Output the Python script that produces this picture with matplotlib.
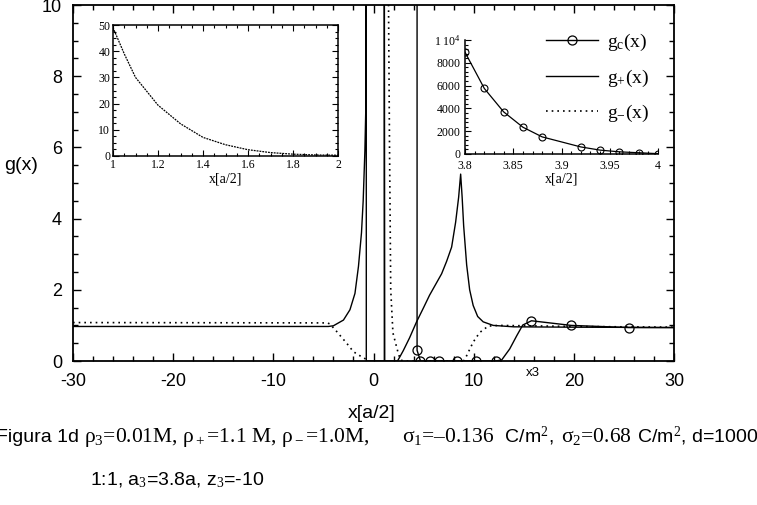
import numpy as np
import matplotlib
matplotlib.use("Agg")
import matplotlib.pyplot as plt
from matplotlib.ticker import MultipleLocator, FixedLocator, FixedFormatter
from matplotlib.offsetbox import TextArea, HPacker, AnchoredOffsetbox

plt.rcParams['axes.unicode_minus'] = False
plt.rcParams['mathtext.fontset'] = 'custom'
plt.rcParams['mathtext.rm'] = 'Liberation Serif'
plt.rcParams['mathtext.it'] = 'Liberation Serif:italic'
plt.rcParams['mathtext.bf'] = 'Liberation Serif:bold'

# ---------------- data ----------------
# g_+(x), solid
gp_x = [-30, -4.5, -4.0, -3.0, -2.35, -1.85, -1.5, -1.2, -1.03, -0.86, -0.76, -0.72, -0.72,
        1.08, 1.08, 1.12, 2.4, 2.97, 3.6, 4.3, 5.0, 5.6, 6.2, 6.8, 7.3, 7.8, 8.2, 8.5, 8.7,
        8.85, 9.0, 9.3, 9.6, 9.95, 10.4, 10.95, 11.95, 14, 20, 30]
gp_y = [0.97, 0.97, 0.99, 1.15, 1.44, 1.9, 2.66, 3.6, 4.5, 5.9, 7.2, 12, 0,
        0, 12, 0, 0, 0.29, 0.65, 1.1, 1.5, 1.85, 2.15, 2.45, 2.8, 3.2, 3.9, 4.6, 5.25,
        4.6, 3.8, 2.7, 2.0, 1.56, 1.25, 1.1, 1.0, 0.96, 0.95, 0.94]

# g_-(x), dotted
gm_x = [-30, -4.6, -4.35, -3.68, -2.68, -2.0, -1.2, -0.87, -0.72, np.nan,
        1.45, 1.5, 1.6, 1.72, 1.94, 2.3, 2.47, 2.7, 3.0, 9.0, 9.3, 9.95, 10.6, 11.45, 12.5, 20, 30]
gm_y = [1.08, 1.07, 1.04, 0.83, 0.5, 0.26, 0.12, 0.07, 0.05, np.nan,
        12, 10, 6, 2.0, 0.79, 0.4, 0.22, 0.03, 0, 0, 0.15, 0.53, 0.8, 0.98, 1.0, 0.97, 0.95]

# g_c(x), solid with circles
gc_x = [4.35, 4.35, 4.69, 5.62, 6.55, 8.35, 10.28, 12.2, 12.8, 13.6, 14.3, 14.9, 15.77, 19.73, 25.5, 30]
gc_y = [12, 0.3, 0.0, 0.0, 0.0, 0.0, 0.0, 0.0, 0.03, 0.34, 0.71, 1.01, 1.13, 1.0, 0.94, 0.94]
gc_marks = [1, 2, 3, 4, 5, 6, 7, 12, 13, 14]

# inset 1: g_-(x) near contact
in1_x = [1.0, 1.01, 1.05, 1.1, 1.2, 1.3, 1.4, 1.5, 1.6, 1.7, 1.8, 1.9, 2.0]
in1_y = [49, 47, 39, 30, 19.4, 12.3, 7.1, 4.3, 2.4, 1.3, 0.7, 0.4, 0.3]

# inset 2: g_c(x) near contact
in2_x = [3.80, 3.82, 3.84, 3.86, 3.88, 3.92, 3.94, 3.96, 3.98, 4.00]
in2_y = [8930, 5750, 3700, 2350, 1500, 620, 340, 190, 110, 30]

main_xticks = [-30, -20, -10, 0, 10, 20, 30]
main_yticks = [0, 2, 4, 6, 8, 10]
in1_xticks = [1, 1.2, 1.4, 1.6, 1.8, 2]
in1_xlabels = ['1', '1.2', '1.4', '1.6', '1.8', '2']
in1_yticks = [0, 10, 20, 30, 40, 50]
in2_xticks = [3.8, 3.85, 3.9, 3.95, 4.0]
in2_xlabels = ['3.8', '3.85', '3.9', '3.95', '4']
in2_yticks = [0, 2000, 4000, 6000, 8000, 10000]
in2_ylabels = ['0', '2000', '4000', '6000', '8000', r'1 10$^{4}$']

# ---------------- figure ----------------
W, H = 757, 505
fig = plt.figure(figsize=(W / 100, H / 100), dpi=100)

def fx(px):
    return px / W

def fy(py):
    return 1 - py / H

sans = 'Liberation Sans'
serif = 'Liberation Serif'

ax = fig.add_axes([fx(73), fy(361), fx(674) - fx(73), fy(5) - fy(361)])
ax.plot(gp_x, gp_y, color='black', lw=1.0, label=r'g$_{+}$(x)')
ax.plot(gm_x, gm_y, color='black', lw=1.2, linestyle=(0, (1.0, 2.4)), label=r'g$_{-}$(x)')
ax.plot(gc_x, gc_y, color='black', lw=1.0, marker='o', markersize=6.5, mfc='none',
        mec='black', mew=0.9, markevery=gc_marks, label=r'g$_\mathregular{c}$(x)')
ax.set_xlim(-30, 30)
ax.set_ylim(0, 10)
ax.xaxis.set_major_locator(FixedLocator(main_xticks))
ax.yaxis.set_major_locator(FixedLocator(main_yticks))
ax.xaxis.set_minor_locator(MultipleLocator(2))
ax.yaxis.set_minor_locator(MultipleLocator(0.5))
ax.tick_params(which='both', direction='in', top=True, right=True, width=1.0, color='black')
ax.tick_params(which='major', length=6)
ax.tick_params(which='minor', length=3.5)
ax.tick_params(axis='x', which='major', pad=9)
ax.tick_params(axis='y', which='major', pad=8)
for lab in ax.get_xticklabels() + ax.get_yticklabels():
    lab.set_fontfamily(sans)
    lab.set_fontsize(13)
for s in ax.spines.values():
    s.set_linewidth(1.3)

handles, labels = ax.get_legend_handles_labels()
order = [2, 0, 1]
leg = ax.legend([handles[i] for i in order], [labels[i] for i in order],
                loc='upper left', bbox_to_anchor=(0.787, 0.925), frameon=False,
                prop={'family': serif, 'size': 14}, numpoints=1, handlelength=2.7,
                handletextpad=0.45, labelspacing=0.75, borderpad=0, borderaxespad=0)

fig.text(fx(4), fy(165), 'g(x)', family=sans, fontsize=14, ha='left', va='center')
fig.text(fx(372), fy(414), 'x[a/2]', family=sans, fontsize=14, ha='center', va='center')
ax.text(15.9, -0.35, 'x3', family=sans, fontsize=9.5, ha='center', va='center')

# ---------------- inset 1 ----------------
a1 = fig.add_axes([fx(113), fy(156), fx(338) - fx(113), fy(25) - fy(156)])
a1.plot(in1_x, in1_y, color='black', lw=0.9, linestyle=(0, (1.5, 0.8)))
a1.set_xlim(1, 2)
a1.set_ylim(0, 50)
a1.xaxis.set_major_locator(FixedLocator(in1_xticks))
a1.xaxis.set_major_formatter(FixedFormatter(in1_xlabels))
a1.yaxis.set_major_locator(FixedLocator(in1_yticks))
a1.xaxis.set_minor_locator(MultipleLocator(0.05))
a1.yaxis.set_minor_locator(MultipleLocator(2.5))
a1.tick_params(which='both', direction='in', top=True, right=True, width=0.8)
a1.tick_params(which='major', length=4, pad=2)
a1.tick_params(which='minor', length=2)
for lab in a1.get_xticklabels() + a1.get_yticklabels():
    lab.set_fontfamily(serif)
    lab.set_fontsize(8.5)
a1.set_xlabel('x[a/2]', family=serif, fontsize=10, labelpad=1)
for s in a1.spines.values():
    s.set_linewidth(1.1)

# ---------------- inset 2 ----------------
a2 = fig.add_axes([fx(465), fy(154), fx(658) - fx(465), fy(40) - fy(154)])
a2.plot(in2_x, in2_y, color='black', lw=0.9, marker='o', markersize=5, mfc='none',
        mec='black', mew=0.8)
a2.set_xlim(3.8, 4.0)
a2.set_ylim(0, 10000)
a2.spines['top'].set_visible(False)
a2.spines['right'].set_visible(False)
a2.xaxis.set_major_locator(FixedLocator(in2_xticks))
a2.xaxis.set_major_formatter(FixedFormatter(in2_xlabels))
a2.yaxis.set_major_locator(FixedLocator(in2_yticks))
a2.yaxis.set_major_formatter(FixedFormatter(in2_ylabels))
a2.xaxis.set_minor_locator(MultipleLocator(0.01))
a2.yaxis.set_minor_locator(MultipleLocator(400))
a2.tick_params(which='both', direction='in', width=0.8)
a2.tick_params(which='major', length=4)
a2.tick_params(axis='x', which='major', pad=4)
a2.tick_params(axis='y', which='major', pad=3)
a2.tick_params(which='minor', length=2)
for lab in a2.get_xticklabels() + a2.get_yticklabels():
    lab.set_fontfamily(serif)
    lab.set_fontsize(8.5)
a2.set_xlabel('x[a/2]', family=serif, fontsize=10, labelpad=1)
for s in a2.spines.values():
    s.set_linewidth(1.1)
a2.patch.set_alpha(0)

# ---------------- caption ----------------
def caption_line(pieces, x_px, base_px):
    areas = [TextArea(t, textprops=dict(family=f, size=sz)) for t, f, sz in pieces]
    pack = HPacker(children=areas, align='baseline', pad=0, sep=0)
    box = AnchoredOffsetbox(loc='center left', child=pack, pad=0, borderpad=0,
                            bbox_to_anchor=(fx(x_px), fy(base_px)),
                            bbox_transform=fig.transFigure, frameon=False)
    fig.add_artist(box)

cap1 = [('Figura 1d ', sans, 14),
        (r'ρ$_3$=0.01M, ρ$_+$=1.1 M, ρ$_-$=1.0M,', serif, 15.5),
        ('      ', serif, 15.5),
        (r'σ$_1$=–0.136', serif, 15.5),
        (r'  C/m$^2$,  ', sans, 14),
        (r'σ$_2$=0.68', serif, 15.5),
        (r' C/m$^2$, d=1000', sans, 14)]
cap2 = [(r'1:1, a$_3$=3.8a, z$_3$=-10', sans, 14)]
caption_line(cap1, -4, 437)
caption_line(cap2, 90, 480)

fig.savefig('out.png', dpi=100)
